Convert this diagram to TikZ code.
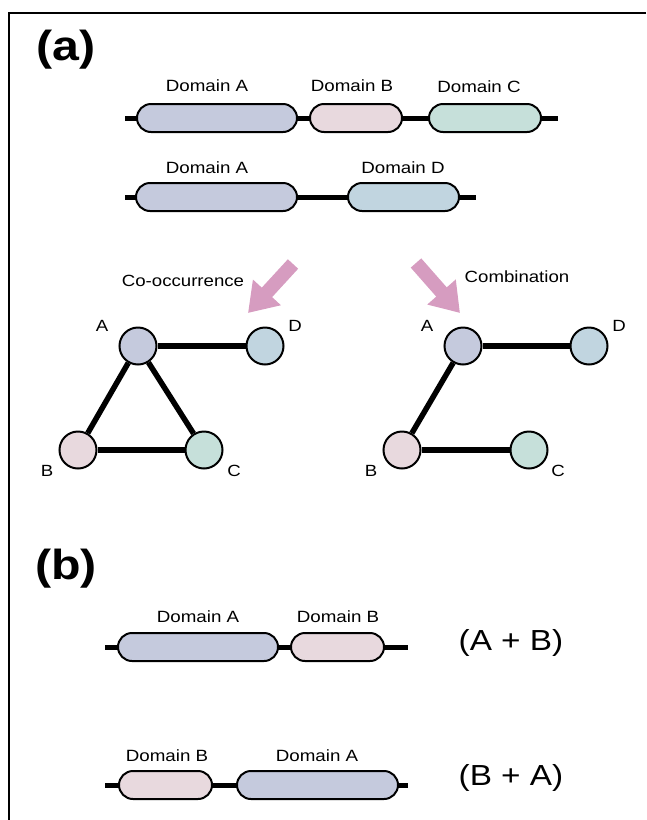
\documentclass[tikz,border=0pt]{standalone}
\usepackage{fontspec}
\setmainfont{Liberation Sans}
\usetikzlibrary{arrows.meta}
\definecolor{cA}{HTML}{C5CADD}
\definecolor{cB}{HTML}{E8D9DE}
\definecolor{cC}{HTML}{C6E0DA}
\definecolor{cD}{HTML}{C1D5E0}
\definecolor{pk}{HTML}{D69CC0}
\newcommand{\hs}[1]{\scalebox{1.15}[1]{#1}}
\begin{document}
\begin{tikzpicture}[x=1pt,y=-1pt,
  dom/.style={draw, line width=2pt, rounded corners=14pt, minimum height=28pt, inner sep=0pt},
  backbone/.style={line width=5pt},
  lbl/.style={font=\fontsize{16.3}{18}\selectfont, inner sep=0pt},
  glbl/.style={font=\fontsize{16.2}{18}\selectfont, inner sep=0pt},
  big/.style={font=\fontsize{29}{32}\selectfont, inner sep=0pt},
  panel/.style={font=\bfseries\fontsize{42}{46}\selectfont, inner sep=0pt},
  gnode/.style={circle, draw, line width=2pt, minimum size=37pt, inner sep=0pt},
  gedge/.style={line width=5.5pt},
  bigarrow/.style={draw=pk, line width=14pt, -{Triangle[width=36pt,length=28pt,fill=pk]}}]
\useasboundingbox (0,0) rectangle (646,820);
% frame
\coordinate (f1) at (646,13);
\coordinate (f2) at (9,13);
\coordinate (f3) at (9,820);
\draw[line width=1.5pt] (f1) -- (f2) -- (f3);
% panel labels
\node[panel] (pa) at (66,50) {\hs{(a)}};
\node[panel] (pb) at (66,569) {\hs{(b)}};
% ---- row 1
\coordinate (r1s) at (125,118);
\coordinate (r1e) at (558,118);
\draw[backbone] (r1s) -- (r1e);
\node[dom, fill=cA, minimum width=160pt] (r1A) at (217,118) {};
\node[dom, fill=cB, minimum width=92pt] (r1B) at (356,118) {};
\node[dom, fill=cC, minimum width=112pt] (r1C) at (485,118) {};
\node[lbl] (l1A) at (207,86) {\hs{Domain A}};
\node[lbl] (l1B) at (352,86) {\hs{Domain B}};
\node[lbl] (l1C) at (479,87) {\hs{Domain C}};
% ---- row 2
\coordinate (r2s) at (125,197);
\coordinate (r2e) at (476,197);
\draw[backbone] (r2s) -- (r2e);
\node[dom, fill=cA, minimum width=161pt] (r2A) at (216.5,197) {};
\node[dom, fill=cD, minimum width=111pt] (r2D) at (403.5,197) {};
\node[lbl] (l2A) at (207,168) {\hs{Domain A}};
\node[lbl] (l2D) at (403,168) {\hs{Domain D}};
% ---- arrows
\coordinate (ar1s) at (293,264);
\coordinate (ar1e) at (248,313);
\draw[bigarrow] (ar1s) -- (ar1e);
\coordinate (ar2s) at (416,263);
\coordinate (ar2e) at (460,313);
\draw[bigarrow] (ar2s) -- (ar2e);
\node[glbl] (co) at (183,281) {\hs{Co-occurrence}};
\node[glbl] (cb) at (517,277) {\hs{Combination}};
% ---- left graph
\node[gnode, fill=cA] (gA) at (138,346) {};
\node[gnode, fill=cD] (gD) at (265,346) {};
\node[gnode, fill=cB] (gB) at (78,450) {};
\node[gnode, fill=cC] (gC) at (204,450) {};
\draw[gedge] (gA) -- (gD);
\draw[gedge] (gA) -- (gB);
\draw[gedge] (gA) -- (gC);
\draw[gedge] (gB) -- (gC);
\node[glbl] (tA) at (102,326) {\hs{A}};
\node[glbl] (tD) at (295,326) {\hs{D}};
\node[glbl] (tB) at (47,471) {\hs{B}};
\node[glbl] (tC) at (234,471) {\hs{C}};
% ---- right graph
\node[gnode, fill=cA] (hA) at (463,346) {};
\node[gnode, fill=cD] (hD) at (589,346) {};
\node[gnode, fill=cB] (hB) at (402,450) {};
\node[gnode, fill=cC] (hC) at (529,450) {};
\draw[gedge] (hA) -- (hD);
\draw[gedge] (hA) -- (hB);
\draw[gedge] (hB) -- (hC);
\node[glbl] (uA) at (427,326) {\hs{A}};
\node[glbl] (uD) at (619,326) {\hs{D}};
\node[glbl] (uB) at (371,471) {\hs{B}};
\node[glbl] (uC) at (558,471) {\hs{C}};
% ---- (b) row 1
\coordinate (b1s) at (105,647);
\coordinate (b1e) at (408,647);
\draw[backbone] (b1s) -- (b1e);
\node[dom, fill=cA, minimum width=160pt] (b1A) at (198,647) {};
\node[dom, fill=cB, minimum width=93pt] (b1B) at (337.5,647) {};
\node[lbl] (m1A) at (198,617) {\hs{Domain A}};
\node[lbl] (m1B) at (338,617) {\hs{Domain B}};
\node[big] (ab) at (511,643) {\hs{(A + B)}};
% ---- (b) row 2
\coordinate (b2s) at (105,785);
\coordinate (b2e) at (408,785);
\draw[backbone] (b2s) -- (b2e);
\node[dom, fill=cB, minimum width=93pt] (b2B) at (165.5,785) {};
\node[dom, fill=cA, minimum width=161pt] (b2A) at (317.5,785) {};
\node[lbl] (m2B) at (167,756) {\hs{Domain B}};
\node[lbl] (m2A) at (317,756) {\hs{Domain A}};
\node[big] (ba) at (511,778) {\hs{(B + A)}};
\end{tikzpicture}
\end{document}
